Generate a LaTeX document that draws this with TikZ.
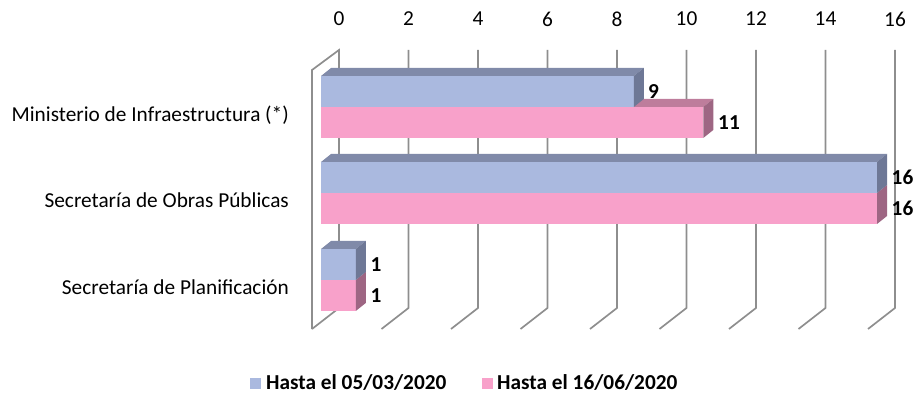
\documentclass[tikz,border=0pt]{standalone}
\usepackage{fontspec}
\setmainfont{Carlito}
\definecolor{gridgray}{HTML}{8E8E8E}
\definecolor{bluefront}{HTML}{AAB9DF}
\definecolor{bluetop}{HTML}{808AA9}
\definecolor{blueside}{HTML}{6E7896}
\definecolor{pinkfront}{HTML}{F8A1CA}
\definecolor{pinktop}{HTML}{BE7D9C}
\definecolor{pinkside}{HTML}{9E6683}

\begin{document}
\begin{tikzpicture}[x=1pt,y=-1pt,
        grid/.style={draw=gridgray,line width=1.7pt},
        every node/.style={inner sep=0pt,font=\fontsize{21.3}{24}\selectfont}]
            \useasboundingbox (0,0) rectangle (919,398);
            % back wall and floor
            \draw[grid] (312,329) -- (312,70) -- (339,50) -- (339,308) -- (312,329);
            \draw[grid] (408.5,50) -- (408.5,308) -- (381.5,329);
            \draw[grid] (478,50) -- (478,308) -- (451,329);
            \draw[grid] (547.5,50) -- (547.5,308) -- (520.5,329);
            \draw[grid] (617,50) -- (617,308) -- (590,329);
            \draw[grid] (686.5,50) -- (686.5,308) -- (659.5,329);
            \draw[grid] (756,50) -- (756,308) -- (729,329);
            \draw[grid] (825.5,50) -- (825.5,308) -- (798.5,329);
            \draw[grid] (895,50) -- (895,308) -- (868,329);
            % axis
            \begin{scope}[every node/.style={inner sep=0pt,font=\fontsize{21.3}{24}\selectfont}]
                \node (t0) at (339,19) {0};
                \node (t2) at (408.5,19) {2};
                \node (t4) at (478,19) {4};
                \node (t6) at (547.5,19) {6};
                \node (t8) at (617,19) {8};
                \node (t10) at (686.5,19) {10};
                \node (t12) at (756,19) {12};
                \node (t14) at (825.5,19) {14};
                \node (t16) at (895,19) {16};
                \node[anchor=east] (min) at (289,115) {Ministerio de Infraestructura (*)};
                \node[anchor=east] (sop) at (289,200) {Secretaría de Obras Públicas};
                \node[anchor=east] (spl) at (289,287) {Secretaría de Planificación};
            \end{scope}
            % Ministerio
            \fill[pinktop] (321,107) -- (331,99) -- (713.25,99) -- (703.25,107) -- cycle;
            \fill[pinkfront] (321,107) rectangle (703.25,138);
            \fill[pinkside] (703.25,107) -- (713.25,99) -- (713.25,130) -- (703.25,138) -- cycle;
            \fill[bluetop] (321,76) -- (331,68) -- (643.75,68) -- (633.75,76) -- cycle;
            \fill[bluefront] (321,76) rectangle (633.75,107);
            \fill[blueside] (633.75,76) -- (643.75,68) -- (643.75,99) -- (633.75,107) -- cycle;
            % Obras Publicas
            \fill[pinkfront] (321,193) rectangle (877,224);
            \fill[pinkside] (877,193) -- (887,185) -- (887,216) -- (877,224) -- cycle;
            \fill[bluetop] (321,162) -- (331,154) -- (887,154) -- (877,162) -- cycle;
            \fill[bluefront] (321,162) rectangle (877,193);
            \fill[blueside] (877,162) -- (887,154) -- (887,185) -- (877,193) -- cycle;
            % Planificacion
            \fill[pinkfront] (321,280) rectangle (355.75,311);
            \fill[pinkside] (355.75,280) -- (365.75,272) -- (365.75,303) -- (355.75,311) -- cycle;
            \fill[bluetop] (321,249) -- (331,241) -- (365.75,241) -- (355.75,249) -- cycle;
            \fill[bluefront] (321,249) rectangle (355.75,280);
            \fill[blueside] (355.75,249) -- (365.75,241) -- (365.75,272) -- (355.75,280) -- cycle;
            % values
            \begin{scope}[every node/.style={anchor=west,inner sep=0pt,font=\fontsize{21.3}{24}\selectfont\bfseries}]
                \node (v1a) at (648,91.5) {9};
                \node (v1b) at (718,122.5) {11};
                \node (v2a) at (891.5,177.5) {16};
                \node (v2b) at (891.5,208.5) {16};
                \node (v3a) at (370.5,264.5) {1};
                \node (v3b) at (370.5,295.5) {1};
            \end{scope}
            % legend
            \node[fill=bluefront,minimum size=11pt] (kA) at (255,383) {};
            \node[anchor=west,font=\fontsize{21.3}{24}\selectfont\bfseries] (lA) at (266,383) {Hasta el 05/03/2020};
            \node[fill=pinkfront,minimum size=11pt] (kB) at (487.5,383) {};
            \node[anchor=west,font=\fontsize{21.3}{24}\selectfont\bfseries] (lB) at (497,383) {Hasta el 16/06/2020};
        \end{tikzpicture}
\end{document}
